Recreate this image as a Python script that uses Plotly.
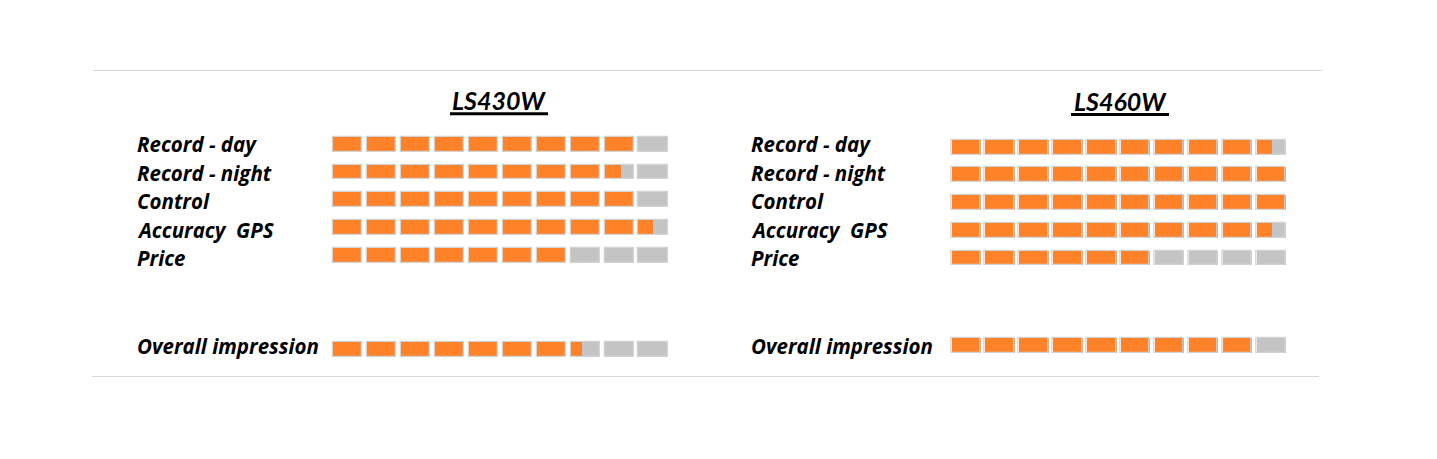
import plotly.graph_objects as go

# Scores (0-10, one block per point)
criteria = ["Record - day", "Record - night", "Control", "Accuracy  GPS", "Price", "Overall impression"]
models = ["LS430W", "LS460W"]
scores_ls430w = [9, 8.55, 9, 9.5, 7, 7.4]
scores_ls460w = [9.5, 10, 10, 9.5, 6, 9]
max_score = 10

# Vertical position of each row (gap before the overall row)
row_pos_left = [0, 1, 2, 3, 4, 7.4]
row_pos_right = [0, 1, 2, 3, 4, 7.15]

ORANGE = '#FF8229'
GREY = '#C4C4C4'
EDGE = '#D3D3D3'
SEG_W = 0.86
BAR_H = 0.54
W, H = 1437, 459
OFF = 8  # page body margin

# where the label lines sit on the page (same for both panels)
label_y_px = [144, 172.5, 201, 229.5, 258, 346]


def px_x(p):
    return (p - OFF) / W


def px_y(p):
    return 1 - (p - OFF) / H


def axis_range(origin_px, unit_px, start_px, size_px):
    # range so that value 0 lands on origin_px (page pixels)
    o = origin_px - OFF - start_px
    return [-o / unit_px, (size_px - o) / unit_px]


fig = go.Figure()


def add_panel(scores, rows, xa, ya):
    bases, ys, fill = [], [], []
    for score, y in zip(scores, rows):
        for i in range(max_score):
            bases.append(i)
            ys.append(y)
            fill.append(max(0, min(1, score - i)) * SEG_W)
    # grey background blocks
    fig.add_trace(go.Bar(
        x=[SEG_W] * len(bases), base=bases, y=ys, orientation='h', width=BAR_H,
        marker=dict(color=GREY, line=dict(width=0)), xaxis=xa, yaxis=ya,
        showlegend=False, hoverinfo='skip'
    ))
    # orange part = score
    fig.add_trace(go.Bar(
        x=fill, base=bases, y=ys, orientation='h', width=BAR_H,
        marker=dict(color=ORANGE, line=dict(width=0)), xaxis=xa, yaxis=ya,
        showlegend=False, hoverinfo='skip'
    ))
    # thin outline on each block
    fig.add_trace(go.Bar(
        x=[SEG_W] * len(bases), base=bases, y=ys, orientation='h', width=BAR_H,
        marker=dict(color='rgba(0,0,0,0)', line=dict(color=EDGE, width=1.3)),
        xaxis=xa, yaxis=ya, showlegend=False, hoverinfo='skip'
    ))


add_panel(scores_ls430w, row_pos_left, 'x', 'y')
add_panel(scores_ls460w, row_pos_right, 'x2', 'y2')

label_font = dict(family='Open Sans', size=20.5, color='black', weight='bold', style='italic')

# row labels
for name, ly in zip(criteria, label_y_px):
    for lx in (135, 749):
        fig.add_annotation(x=px_x(lx), y=px_y(ly), xref='paper', yref='paper', text=name,
                           showarrow=False, xanchor='left', yanchor='middle', font=label_font)

# model titles with thick underline
title_font = dict(family='Lato', size=25, color='black', weight='bold', style='italic')
for name, cx, cy, x0, x1, uy in [(models[0], 499, 100, 450, 548, 113.7),
                                  (models[1], 1120, 101, 1071, 1169, 114.5)]:
    fig.add_annotation(x=px_x(cx), y=px_y(cy), xref='paper', yref='paper', text=name,
                       showarrow=False, xanchor='center', yanchor='middle', font=title_font)
    fig.add_shape(type='line', xref='paper', yref='paper', x0=px_x(x0), x1=px_x(x1),
                  y0=px_y(uy), y1=px_y(uy), line=dict(color='black', width=3))

# grey separator lines
fig.add_shape(type='line', xref='paper', yref='paper', x0=px_x(93), x1=px_x(1322),
              y0=px_y(70.5), y1=px_y(70.5), line=dict(color='#D9D9D9', width=1))
fig.add_shape(type='line', xref='paper', yref='paper', x0=px_x(92), x1=px_x(1319),
              y0=px_y(376.5), y1=px_y(376.5), line=dict(color='#D9D9D9', width=1))

hidden = dict(visible=False, showgrid=False, zeroline=False, fixedrange=True)
yl = axis_range(144.3, 27.7, 0, H)
yr = axis_range(147.2, 27.7, 0, H)
fig.update_layout(
    width=W,
    height=H,
    margin=dict(l=0, r=0, t=0, b=0),
    plot_bgcolor='white',
    paper_bgcolor='white',
    barmode='overlay',
    bargap=0,
    xaxis=dict(domain=[0, 0.5], range=axis_range(333.3, 33.9, 0, W / 2), **hidden),
    xaxis2=dict(domain=[0.5, 1], range=axis_range(951, 33.95, W / 2, W / 2), **hidden),
    yaxis=dict(domain=[0, 1], range=[yl[1], yl[0]], **hidden),
    yaxis2=dict(domain=[0, 1], range=[yr[1], yr[0]], anchor='x2', **hidden),
)

fig.write_html("out.html")
